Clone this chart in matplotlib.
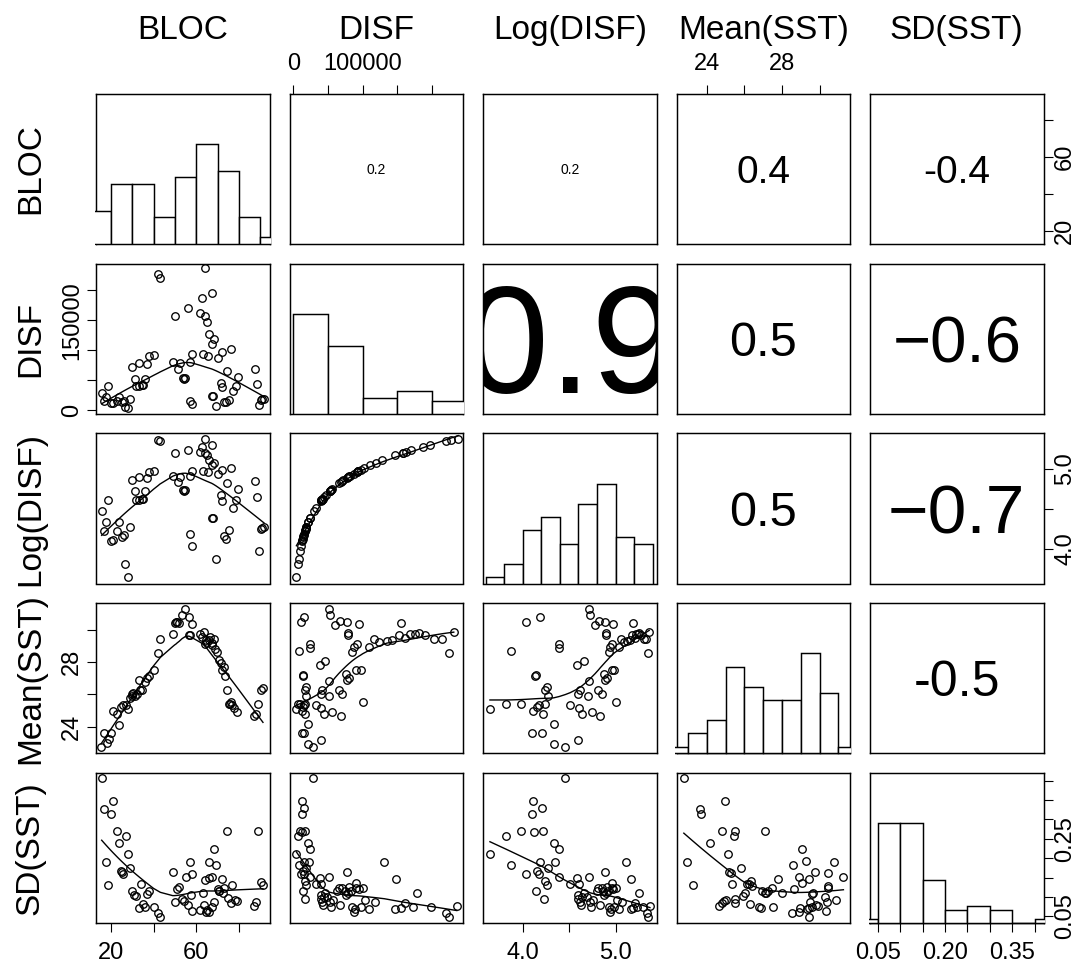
import numpy as np
import matplotlib
matplotlib.use("Agg")
import matplotlib.pyplot as plt
from matplotlib.transforms import offset_copy, Bbox, TransformedBbox

plt.rcParams['font.family'] = ['Liberation Sans', 'DejaVu Sans']

var_names = ['BLOC', 'DISF', 'Log(DISF)', 'Mean(SST)', 'SD(SST)']

# ---------------- data ----------------
# BLOC vs Log(DISF)
bloc_a = [15.6, 17.6, 16.7, 18.7, 20.0, 20.8, 23.0, 23.9, 25.0, 26.0, 26.6, 27.8, 28.9, 29.7, 31.0,
          31.8, 32.9, 34.4, 35.2, 32.9, 36.0, 36.8, 37.9, 39.9, 42.0, 42.9, 48.9, 49.8, 51.4, 52.5,
          53.6, 54.4, 54.8, 56.1, 57.2, 58.0, 57.0, 58.0, 61.9, 62.7, 63.0, 63.9, 64.2, 65.0, 65.5,
          66.1, 67.1, 67.4, 68.2, 67.1, 68.0, 69.3, 70.2, 71.3, 72.1, 72.1, 72.9, 74.0, 74.4, 75.2,
          76.2, 77.1, 78.4, 79.3, 87.5, 88.2, 89.3, 90.1, 90.9, 91.7]
logdisf_a = [4.468, 4.335, 4.218, 4.606, 4.097, 4.114, 4.218, 4.335, 4.147, 4.176, 3.814, 3.647, 4.272, 4.856, 4.718,
             4.606, 4.614, 4.626, 4.622, 4.897, 4.722, 4.889, 4.960, 4.968, 5.356, 5.343, 4.906, 5.197, 4.835, 4.897,
             4.739, 4.718, 4.731, 5.231, 4.910, 4.972, 4.189, 4.031, 5.210, 5.272, 4.972, 5.376, 5.197, 5.168, 4.960,
             5.106, 5.293, 5.043, 5.076, 4.389, 4.389, 3.876, 4.939, 4.668, 4.989, 4.593, 4.156, 4.126, 4.822, 4.239,
             5.010, 4.514, 4.614, 4.751, 4.843, 4.647, 3.972, 4.251, 4.264, 4.272]

# BLOC vs Mean(SST)
bloc_b = [15.3, 16.9, 18.0, 19.1, 20.0, 20.8, 23.0, 23.9, 24.7, 25.8, 26.9, 27.8, 28.9, 29.7, 30.5,
          31.3, 32.1, 32.9, 33.6, 34.7, 36.0, 36.8, 37.9, 39.9, 42.0, 43.1, 48.9, 49.8, 50.9, 52.0,
          53.3, 54.8, 56.7, 58.0, 56.4, 57.2, 61.9, 62.7, 63.5, 63.9, 65.0, 65.8, 66.6, 67.4, 68.2,
          68.6, 69.7, 70.5, 71.3, 72.1, 72.9, 73.6, 74.4, 75.2, 76.0, 76.8, 77.6, 79.1, 87.0, 88.1,
          89.0, 90.1, 91.2, 30.0, 50.4, 64.6, 67.1, 75.7]
mean_b = [22.77, 23.63, 23.02, 23.28, 23.63, 24.99, 24.78, 24.14, 25.23, 25.33, 25.33, 25.13, 25.81, 26.01, 26.09,
          25.89, 26.01, 26.91, 26.26, 26.30, 26.75, 27.04, 27.12, 27.53, 28.55, 29.44, 29.74, 30.40, 30.46, 30.40,
          30.87, 31.28, 30.77, 30.36, 29.64, 29.64, 29.74, 29.54, 29.85, 29.13, 29.23, 29.33, 29.54, 29.03, 29.44,
          28.82, 28.62, 28.10, 27.94, 27.49, 27.69, 27.12, 26.30, 25.44, 25.54, 25.33, 25.19, 24.92, 24.66, 24.78,
          25.44, 26.30, 26.42, 25.93, 30.44, 29.38, 29.17, 25.40]

# BLOC vs SD(SST)
bloc_c = [15.6, 16.7, 19.8, 20.9, 17.6, 18.7, 22.8, 23.9, 26.9, 27.8, 24.7, 25.8, 28.9, 29.7, 30.7,
          31.6, 32.9, 34.1, 35.2, 36.0, 36.8, 37.9, 39.9, 42.0, 43.1, 48.9, 49.8, 50.9, 51.7, 53.3,
          54.2, 55.1, 56.1, 57.0, 58.0, 57.3, 58.0, 61.9, 63.0, 63.6, 64.2, 64.6, 65.2, 65.8, 66.1,
          67.1, 66.1, 68.2, 67.4, 68.2, 69.3, 69.9, 70.8, 71.8, 72.4, 73.0, 74.3, 74.9, 76.0, 76.8,
          78.0, 79.1, 87.0, 88.1, 89.0, 90.1, 91.2, 25.0, 70.5]
sd_c = [0.406, 0.327, 0.315, 0.346, 0.191, 0.131, 0.271, 0.240, 0.257, 0.210, 0.167, 0.159, 0.174, 0.114, 0.105,
        0.102, 0.071, 0.133, 0.081, 0.074, 0.108, 0.114, 0.075, 0.059, 0.049, 0.163, 0.086, 0.120, 0.126, 0.094,
        0.090, 0.151, 0.078, 0.191, 0.159, 0.105, 0.065, 0.066, 0.109, 0.078, 0.144, 0.062, 0.066, 0.062, 0.148,
        0.151, 0.191, 0.223, 0.075, 0.088, 0.182, 0.120, 0.116, 0.145, 0.111, 0.122, 0.269, 0.096, 0.085, 0.131,
        0.092, 0.090, 0.077, 0.086, 0.271, 0.139, 0.130, 0.163, 0.114]

# Log(DISF) vs Mean(SST)
logdisf_d = [3.643, 3.814, 3.875, 3.975, 4.029, 4.100, 4.107, 4.125, 4.143, 4.154, 4.172, 4.189, 4.207, 4.214, 4.243,
             4.236, 4.261, 4.272, 4.332, 4.332, 4.386, 4.393, 4.457, 4.511, 4.582, 4.600, 4.600, 4.618, 4.607, 4.643,
             4.664, 4.707, 4.714, 4.722, 4.714, 4.743, 4.779, 4.814, 4.825, 4.836, 4.850, 4.879, 4.886, 4.886, 4.897,
             4.900, 4.904, 4.929, 4.943, 4.957, 4.964, 4.975, 4.986, 5.000, 5.036, 5.064, 5.093, 5.129, 5.154, 5.182,
             5.189, 5.207, 5.225, 5.243, 5.257, 5.279, 5.307, 5.332, 5.350, 5.364]
mean_d = [25.13, 25.40, 28.66, 25.44, 30.46, 23.63, 24.99, 27.12, 27.22, 25.23, 25.33, 30.77, 23.63, 24.82, 26.30,
          25.44, 26.46, 25.89, 24.17, 22.98, 29.09, 28.88, 22.77, 25.33, 27.80, 26.05, 23.22, 26.26, 25.19, 24.82,
          28.04, 25.89, 31.28, 30.87, 26.83, 24.92, 30.30, 26.30, 30.52, 24.66, 26.05, 27.28, 26.91, 30.46, 29.79,
          29.68, 27.04, 28.62, 28.92, 27.49, 29.13, 30.36, 27.53, 25.54, 28.92, 29.44, 29.23, 29.27, 29.38, 29.64,
          30.40, 29.50, 29.70, 29.74, 29.79, 29.64, 29.44, 29.44, 28.55, 29.85]

# Log(DISF) vs SD(SST)
logdisf_e = [3.643, 3.814, 3.875, 3.975, 4.029, 4.093, 4.107, 4.118, 4.136, 4.154, 4.172, 4.189, 4.207, 4.214, 4.229,
             4.243, 4.261, 4.272, 4.332, 4.343, 4.386, 4.393, 4.457, 4.511, 4.582, 4.600, 4.607, 4.600, 4.618, 4.629,
             4.643, 4.664, 4.689, 4.714, 4.725, 4.736, 4.757, 4.814, 4.832, 4.850, 4.868, 4.879, 4.886, 4.893, 4.904,
             4.922, 4.929, 4.943, 4.950, 4.957, 4.975, 4.986, 5.000, 5.014, 5.036, 5.072, 5.118, 5.164, 5.172, 5.189,
             5.207, 5.236, 5.250, 5.297, 5.343, 5.350, 5.372, 4.957, 4.797]
sd_e = [0.210, 0.257, 0.182, 0.271, 0.159, 0.315, 0.346, 0.268, 0.115, 0.167, 0.159, 0.191, 0.328, 0.271, 0.094,
        0.141, 0.131, 0.174, 0.240, 0.191, 0.223, 0.151, 0.406, 0.133, 0.148, 0.105, 0.133, 0.094, 0.088, 0.079,
        0.101, 0.109, 0.099, 0.152, 0.088, 0.073, 0.092, 0.122, 0.079, 0.122, 0.116, 0.105, 0.163, 0.109, 0.125,
        0.114, 0.073, 0.062, 0.068, 0.137, 0.120, 0.075, 0.122, 0.092, 0.068, 0.088, 0.191, 0.068, 0.145, 0.071,
        0.084, 0.075, 0.109, 0.075, 0.058, 0.049, 0.077, 0.122, 0.116]

# Mean(SST) vs SD(SST)
mean_f = [22.77, 22.95, 23.25, 23.65, 23.67, 24.19, 24.66, 24.80, 24.80, 24.91, 24.98, 25.02, 25.12, 25.19, 25.27,
          25.34, 25.44, 25.48, 25.48, 25.51, 25.83, 25.90, 26.01, 26.13, 26.22, 26.31, 26.33, 26.40, 26.79, 26.89,
          26.93, 27.11, 27.07, 27.16, 27.25, 27.46, 27.50, 27.78, 27.99, 28.52, 28.61, 28.63, 28.88, 28.91, 28.98,
          29.05, 29.05, 29.27, 29.32, 29.41, 29.44, 29.48, 29.58, 29.62, 29.67, 29.73, 29.80, 29.90, 30.29, 30.35,
          30.40, 30.43, 30.47, 30.47, 30.79, 30.86, 31.27, 29.44]
sd_f = [0.406, 0.191, 0.131, 0.327, 0.315, 0.240, 0.077, 0.085, 0.271, 0.090, 0.346, 0.092, 0.210, 0.163, 0.161,
        0.133, 0.257, 0.271, 0.094, 0.085, 0.174, 0.102, 0.111, 0.133, 0.133, 0.082, 0.142, 0.128, 0.073, 0.071,
        0.115, 0.270, 0.111, 0.111, 0.116, 0.122, 0.075, 0.146, 0.111, 0.058, 0.182, 0.120, 0.151, 0.062, 0.071,
        0.223, 0.135, 0.193, 0.068, 0.145, 0.049, 0.088, 0.075, 0.107, 0.111, 0.163, 0.079, 0.077, 0.101, 0.064,
        0.088, 0.161, 0.128, 0.122, 0.191, 0.092, 0.152, 0.071]

# histograms (diagonal)
bloc_breaks = [10, 20, 30, 40, 50, 60, 70, 80, 90, 100]
bloc_counts = [5, 9, 9, 4, 10, 15, 11, 4, 1]
disf_breaks = [0, 50000, 100000, 150000, 200000, 250000]
disf_counts = [31, 21, 5, 7, 4]
logdisf_breaks = [3.6, 3.8, 4.0, 4.2, 4.4, 4.6, 4.8, 5.0, 5.2, 5.4]
logdisf_counts = [1, 3, 8, 10, 6, 12, 15, 7, 6]
mean_breaks = [22, 23, 24, 25, 26, 27, 28, 29, 30, 31, 32]
mean_counts = [1, 3, 5, 13, 10, 8, 8, 15, 9, 1]
sd_breaks = [0.0, 0.05, 0.10, 0.15, 0.20, 0.25, 0.30, 0.35, 0.40, 0.45]
sd_counts = [1, 23, 23, 10, 3, 4, 3, 0, 1]

# correlations shown in the upper panels
cor_text = {(0, 1): '0.2', (0, 2): '0.2', (0, 3): '0.4', (0, 4): '-0.4',
            (1, 2): '0.9', (1, 3): '0.5', (1, 4): '\u22120.6',
            (2, 3): '0.5', (2, 4): '\u22120.7', (3, 4): '-0.5'}

# axis ticks / labels per variable
var_ticks = [[20, 40, 60, 80],
             [0, 50000, 100000, 150000, 200000],
             [4.0, 4.5, 5.0],
             [24, 26, 28, 30],
             [0.05, 0.10, 0.15, 0.20, 0.25, 0.30, 0.35, 0.40]]
lab_bottom = {0: {20: '20', 60: '60'}, 2: {4.0: '4.0', 5.0: '5.0'},
              4: {0.05: '0.05', 0.20: '0.20', 0.35: '0.35'}}
lab_top = {1: {0: '0', 100000: '100000'}, 3: {24: '24', 28: '28'}}
lab_left = {1: {0: '0', 150000: '150000'}, 3: {24: '24', 28: '28'}}
lab_right = {0: {20: '20', 60: '60'}, 2: {4.0: '4.0', 5.0: '5.0'}, 4: {0.05: '0.05', 0.25: '0.25'}}

# ---------------- styling / layout ----------------
cor_size = {(0, 1): 10, (0, 2): 10, (0, 3): 28, (0, 4): 28,
            (1, 2): 110, (1, 3): 35, (1, 4): 47,
            (2, 3): 35, (2, 4): 50, (3, 4): 36}
lims = [(12.94, 94.26), (-5500, 244500), (3.568, 5.443), (22.38, 31.62), (0.0328, 0.4194)]

W, H = 1086, 963
fig = plt.figure(figsize=(W / 100, H / 100), dpi=100)
col_left = [96 + 193.5 * k for k in range(5)]
row_top = [94 + 169.75 * k for k in range(5)]
pw, ph = 173.5, 150.0
TICK_FS = 17
TITLE_FS = 24


def r_lowess(x, y, f=2 / 3, it=3):
    x = np.asarray(x, float)
    y = np.asarray(y, float)
    o = np.argsort(x, kind='stable')
    x = x[o]
    y = y[o]
    n = len(x)
    ns = max(2, min(n, int(f * n + 1e-7)))
    rw = np.ones(n)
    ys = np.zeros(n)
    xr = x[-1] - x[0]
    for iteration in range(it + 1):
        for i in range(n):
            d = np.abs(x - x[i])
            h = np.sort(d)[ns - 1]
            if h > 0:
                r = d / h
                w = np.where(r < 0.999, (1 - np.clip(r, 0, 1) ** 3) ** 3, 0.0)
                w[r <= 0.001] = 1.0
            else:
                w = (d == 0).astype(float)
            w = w * rw
            sw = w.sum()
            if sw <= 0:
                ys[i] = y[i]
                continue
            w = w / sw
            a = np.sum(w * x)
            b = np.sum(w * (x - a) ** 2)
            if h > 0 and np.sqrt(b) > 0.001 * xr:
                slope = np.sum(w * (x - a) * y) / b
                ys[i] = np.sum(w * y) + slope * (x[i] - a)
            else:
                ys[i] = np.sum(w * y)
        if iteration == it:
            break
        res = y - ys
        cmad = 6 * np.median(np.abs(res))
        if cmad < 1e-7 * np.mean(np.abs(y)):
            break
        u = np.abs(res) / cmad
        rw = np.where(u < 1, (1 - u ** 2) ** 2, 0.0)
    return x, ys


disf_a = list(10 ** np.array(logdisf_a))
disf_d = list(10 ** np.array(logdisf_d))
disf_e = list(10 ** np.array(logdisf_e))
scatter = {(1, 0): (bloc_a, disf_a), (2, 0): (bloc_a, logdisf_a), (3, 0): (bloc_b, mean_b),
           (4, 0): (bloc_c, sd_c), (2, 1): (disf_a, logdisf_a), (3, 1): (disf_d, mean_d),
           (4, 1): (disf_e, sd_e), (3, 2): (logdisf_d, mean_d), (4, 2): (logdisf_e, sd_e),
           (4, 3): (mean_f, sd_f)}
hists = [(bloc_breaks, bloc_counts), (disf_breaks, disf_counts), (logdisf_breaks, logdisf_counts),
         (mean_breaks, mean_counts), (sd_breaks, sd_counts)]

for i in range(5):
    for j in range(5):
        rect = [col_left[j] / W, 1 - (row_top[i] + ph) / H, pw / W, ph / H]
        ax = fig.add_axes(rect)
        ax.set_xlim(*lims[j])
        ax.set_ylim(*lims[i])
        for s in ax.spines.values():
            s.set_linewidth(1.05)
            s.set_color('black')
        ax.set_xticks(var_ticks[j])
        ax.set_yticks(var_ticks[i])
        show_top = (i == 0 and j in lab_top)
        show_bottom = (i == 4 and j in lab_bottom)
        show_left = (j == 0 and i in lab_left)
        show_right = (j == 4 and i in lab_right)
        if show_top:
            ax.set_xticklabels([lab_top[j].get(t, '') for t in var_ticks[j]])
        elif show_bottom:
            ax.set_xticklabels([lab_bottom[j].get(t, '') for t in var_ticks[j]])
        if show_left:
            ax.set_yticklabels([lab_left[i].get(t, '') for t in var_ticks[i]])
        elif show_right:
            ax.set_yticklabels([lab_right[i].get(t, '') for t in var_ticks[i]])
        ax.tick_params(axis='x', which='both', direction='out', length=6.8, width=0.8,
                       labelsize=TICK_FS, pad=7.0,
                       top=show_top, labeltop=show_top, bottom=show_bottom, labelbottom=show_bottom)
        ax.tick_params(axis='y', which='both', direction='out', length=6.8, width=0.8,
                       labelsize=TICK_FS, labelrotation=90,
                       left=show_left, labelleft=show_left, right=show_right, labelright=show_right)
        if show_left:
            ax.tick_params(axis='y', pad=2.7)
        if show_right:
            ax.tick_params(axis='y', pad=0.8)
        plt.setp(ax.get_yticklabels(), va='center')

        if i > j:
            xs, ys = scatter[(i, j)]
            ax.plot(xs, ys, linestyle='none', marker='o', markersize=5.4,
                    markerfacecolor='none', markeredgecolor='black', markeredgewidth=0.95)
            lx, ly = r_lowess(xs, ys)
            ax.plot(lx, ly, color='black', linewidth=1.0)
        elif i < j:
            fs = cor_size[(i, j)]
            tr = offset_copy(ax.transAxes, fig=fig, y=-0.358 * fs, units='points')
            ax.text(0.5, 0.5, cor_text[(i, j)], transform=tr, ha='center', va='baseline',
                    fontsize=fs, clip_on=True)
        else:
            axh = fig.add_axes(rect, frameon=False)
            axh.set_xlim(*lims[j])
            axh.set_ylim(0, 1.5)
            axh.set_xticks([])
            axh.set_yticks([])
            br, ct = hists[j]
            br = np.array(br, float)
            ct = np.array(ct, float)
            bars = axh.bar(br[:-1], ct / ct.max(), width=np.diff(br), align='edge',
                           color='white', edgecolor='black', linewidth=1.05, zorder=3)
            cb = TransformedBbox(Bbox([[-0.007, -0.01], [1.007, 1.01]]), axh.transAxes)
            for b in bars:
                b.set_clip_box(cb)

# variable titles
for k, name in enumerate(var_names):
    cx = (col_left[k] + pw / 2) / W
    tr = offset_copy(fig.transFigure, fig=fig, y=-0.358 * TITLE_FS, units='points')
    fig.text(cx, 1 - 27 / H, name, transform=tr, ha='center', va='baseline', fontsize=TITLE_FS)
    cy = 1 - (row_top[k] + ph / 2) / H
    tr2 = offset_copy(fig.transFigure, fig=fig, x=0.358 * TITLE_FS, units='points')
    fig.text(27 / W, cy, name, transform=tr2, ha='center', va='baseline', rotation=90,
             rotation_mode='anchor', fontsize=TITLE_FS)

fig.savefig('out.png', dpi=100)
